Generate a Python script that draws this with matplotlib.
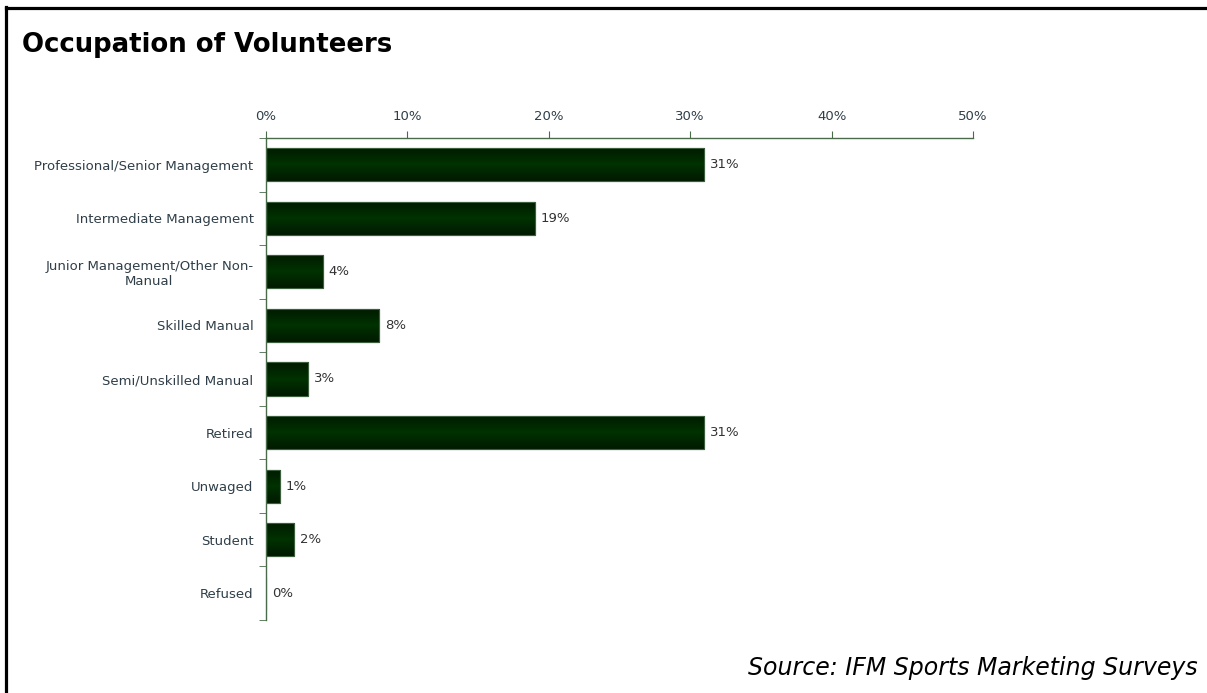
import numpy as np
import matplotlib.pyplot as plt
from matplotlib.lines import Line2D
from matplotlib.colors import LinearSegmentedColormap

# ── Data ──────────────────────────────────────────────────────────────────────
categories = ['Professional/Senior Management', 'Intermediate Management',
              'Junior Management/Other Non-\nManual', 'Skilled Manual',
              'Semi/Unskilled Manual', 'Retired', 'Unwaged', 'Student', 'Refused']
values = [31, 19, 4, 8, 3, 31, 1, 2, 0]
x_ticks = [0, 10, 20, 30, 40, 50]

AXIS_COL = '#4a6b4a'
TEXT_COL = '#2f3e48'

W, H = 1207, 693
fig = plt.figure(figsize=(W / 100, H / 100), dpi=100)
ax = fig.add_axes([266 / W, 1 - 620 / H, 707 / W, 482 / H])

# vertical shading inside each bar: dark edges, slightly lighter centre
shade = LinearSegmentedColormap.from_list('bar', ['#001a00', '#003200', '#001a00'])
grad = np.linspace(0, 1, 64).reshape(-1, 1)

ypos = list(range(len(categories)))
bars = ax.barh(ypos, values, height=0.62, color='#012a01', edgecolor='#3d5e3d', lw=0.8)
for b in bars:
    if b.get_width() <= 0:
        continue
    x0, y0 = b.get_x(), b.get_y()
    im = ax.imshow(grad, cmap=shade, aspect='auto', interpolation='bilinear',
                   extent=(x0, x0 + b.get_width(), y0 + b.get_height(), y0), zorder=1.5)
    im.set_clip_path(b)
    b.set_zorder(1)
    ax.add_patch(plt.Rectangle((x0, y0), b.get_width(), b.get_height(), fill=False,
                               edgecolor='#3d5e3d', lw=0.8, zorder=2))

for y, v in zip(ypos, values):
    ax.text(v + 0.4, y, f'{v}%', va='center', ha='left', fontsize=9.5, color='#333333')

ax.set_xlim(0, 50)
ax.set_ylim(len(categories) - 0.5, -0.5)
ax.set_aspect('auto')
ax.xaxis.tick_top()
ax.set_xticks(x_ticks)
ax.set_xticklabels([f'{t}%' for t in x_ticks], fontsize=9.5, color=TEXT_COL)
ax.tick_params(axis='x', direction='out', length=5, color=AXIS_COL, pad=6)

# category labels on the bars, tick marks between categories
ax.set_yticks(ypos)
ax.set_yticklabels(categories, fontsize=9.5, color=TEXT_COL, linespacing=1.2)
ax.tick_params(axis='y', which='major', length=0, pad=9)
ax.set_yticks([y + 0.5 for y in range(-1, len(categories))], minor=True)
ax.tick_params(axis='y', which='minor', direction='out', length=5, color=AXIS_COL)
for lbl in ax.get_yticklabels():
    lbl.set_horizontalalignment('right')
    lbl.set_multialignment('center')

for s in ['right', 'bottom']:
    ax.spines[s].set_visible(False)
for s in ['left', 'top']:
    ax.spines[s].set_color(AXIS_COL)
    ax.spines[s].set_linewidth(1.0)

# ── Title, source, frame ──────────────────────────────────────────────────────
fig.text(22 / W, 1 - 45 / H, 'Occupation of Volunteers', fontsize=18.7,
         fontweight='bold', va='center', ha='left', color='black')
fig.text(1198 / W, 1 - 668 / H, 'Source: IFM Sports Marketing Surveys',
         fontsize=17, style='italic', va='center', ha='right', color='black')

fig.add_artist(Line2D([6 / W, 6 / W], [0, 1 - 7 / H], color='black', lw=2.3,
                      solid_capstyle='projecting'))
fig.add_artist(Line2D([6 / W, 1205 / W], [1 - 8 / H, 1 - 8 / H], color='black', lw=2.3))

fig.savefig('out.png', dpi=100)
